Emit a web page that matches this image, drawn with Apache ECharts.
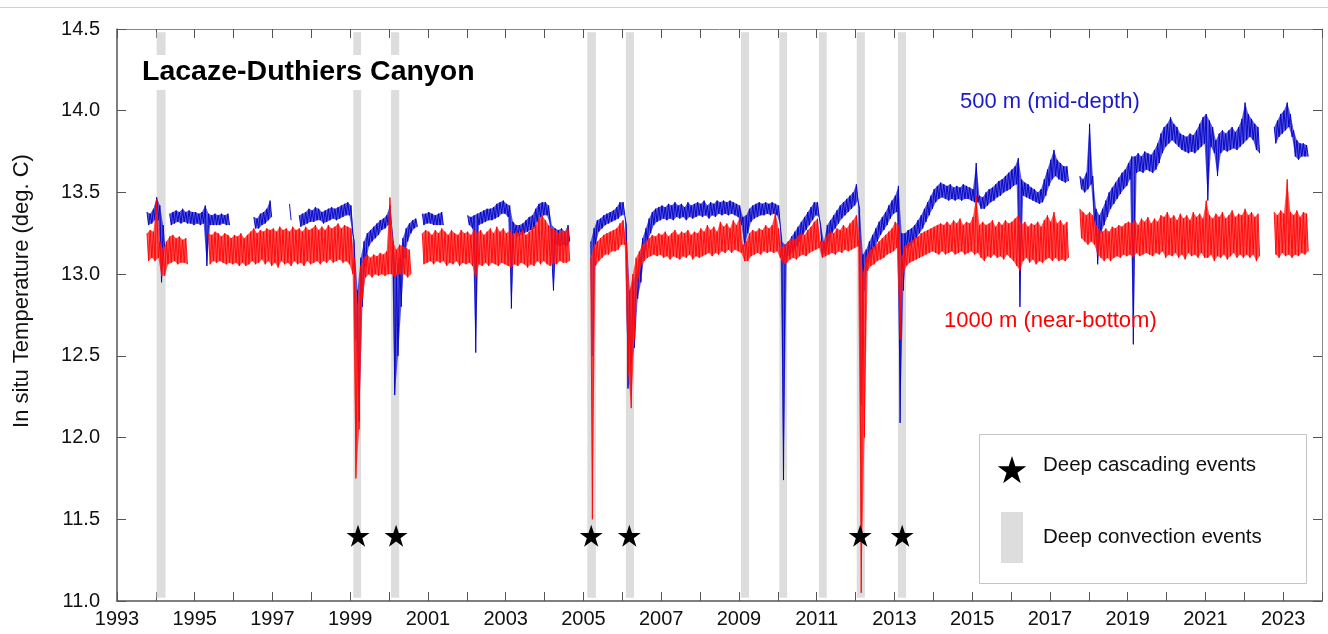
<!DOCTYPE html>
<html><head><meta charset="utf-8">
<script src="https://cdn.jsdelivr.net/npm/echarts@6/dist/echarts.min.js"></script>
<style>html,body{margin:0;padding:0;background:#fff}#c{width:1328px;height:634px}</style>
</head><body><div id="c"></div>
<script>
const N = null;
// monthly series start in October 1993 (month index 9, 0-based)
const startYear = 1993, startMonth = 9;

// 500 m (mid-depth): monthly upper / lower envelope
const blueHi = [
 13.38,13.37,13.40,
 13.47,13.42,13.30,N,13.37,13.38,13.39,13.38,13.40,13.38,13.39,13.38,
 13.38,13.37,13.38,13.42,13.37,13.36,13.37,13.36,13.37,13.36,13.37,N,
 N,N,N,N,N,N,13.35,13.34,13.37,13.38,13.40,13.45,
 N,N,N,N,N,13.43,N,N,13.36,13.37,13.38,13.40,
 13.39,13.41,13.40,13.38,13.39,13.40,13.41,13.40,13.41,13.42,13.43,13.44,
 13.42,13.20,12.90,13.10,13.20,13.25,13.27,13.29,13.31,13.33,13.34,13.36,
 13.42,13.20,13.00,13.10,13.22,13.28,13.31,13.33,13.34,N,13.37,13.37,
 13.38,13.37,13.36,13.37,13.38,N,N,N,N,N,N,N,
 13.36,13.35,13.36,13.37,13.38,13.39,13.40,13.40,13.41,13.43,13.44,13.45,
 13.43,13.42,13.32,13.30,13.30,13.31,13.33,13.35,13.36,13.40,13.43,13.44,
 13.44,13.42,13.30,13.28,13.27,13.28,13.26,13.30,N,N,N,N,
 N,N,13.20,13.28,13.33,13.34,13.36,13.37,13.38,13.39,13.41,13.44,
 13.44,13.30,12.90,12.95,13.00,13.10,13.22,13.28,13.34,13.38,13.40,13.41,
 13.42,13.41,13.43,13.42,13.44,13.42,13.43,13.41,13.44,13.42,13.43,13.44,
 13.43,13.45,13.42,13.44,13.43,13.45,13.44,13.45,13.44,13.45,13.44,13.43,
 13.42,13.35,13.36,13.40,13.42,13.43,13.44,13.43,13.44,13.43,13.44,13.43,
 13.42,13.20,13.18,13.20,13.23,13.26,13.29,13.32,13.35,13.38,13.41,13.44,
 13.44,13.30,13.20,13.30,13.33,13.36,13.39,13.42,13.44,13.46,13.48,13.50,
 13.55,13.40,13.12,13.15,13.20,13.24,13.28,13.32,13.35,13.38,13.42,13.45,
 13.48,13.54,13.25,13.25,13.27,13.28,13.30,13.33,13.36,13.40,13.44,13.48,
 13.52,13.54,13.56,13.55,13.54,13.55,13.53,13.54,13.53,13.55,13.54,13.53,
 13.52,13.68,13.48,13.47,13.50,13.52,13.53,13.55,13.57,13.58,13.60,13.62,
 13.64,13.66,13.71,13.58,13.56,13.55,13.53,13.52,13.50,13.52,13.58,13.64,
 13.70,13.76,13.70,13.68,13.66,13.66,N,N,N,13.60,13.58,13.62,
 13.92,13.60,13.40,13.36,13.40,13.45,13.50,13.53,13.56,13.59,13.62,13.64,
 13.68,13.72,13.72,13.74,13.72,13.75,13.74,13.73,13.76,13.80,13.86,13.90,
 13.92,13.96,13.92,13.90,13.86,13.85,13.84,13.86,13.85,13.88,13.92,13.96,
 13.98,13.94,13.90,13.82,13.86,13.88,13.86,13.88,13.90,13.87,13.90,13.95,
 14.05,13.98,13.95,13.92,13.90,N,N,N,N,13.90,13.94,13.98,
 14.00,14.05,13.98,13.88,13.82,13.80,13.80,13.79
];
const blueLo = [
 13.30,13.31,13.33,
 13.33,12.95,13.15,N,13.30,13.31,13.32,13.31,13.32,13.31,13.31,13.30,
 13.31,13.30,13.31,13.05,13.30,13.30,13.30,13.30,13.31,13.30,13.30,N,
 N,N,N,N,N,N,13.28,13.28,13.30,13.31,13.33,13.35,
 N,N,N,N,N,13.33,N,N,13.29,13.30,13.31,13.32,
 13.32,13.33,13.33,13.31,13.32,13.33,13.34,13.33,13.34,13.35,13.36,13.36,
 13.25,12.60,12.10,12.80,13.05,13.17,13.20,13.22,13.24,13.27,13.28,13.30,
 13.30,12.26,12.50,12.80,13.10,13.20,13.25,13.28,13.29,N,13.30,13.31,
 13.31,13.30,13.30,13.30,13.30,N,N,N,N,N,N,N,
 13.30,13.28,12.52,13.30,13.31,13.32,13.33,13.33,13.34,13.35,13.37,13.37,
 13.35,12.79,13.25,13.23,13.24,13.25,13.26,13.27,13.28,13.32,13.35,13.36,
 13.36,13.30,12.90,13.18,13.17,13.18,13.17,13.20,N,N,N,N,
 N,N,12.50,13.18,13.26,13.28,13.30,13.31,13.32,13.33,13.34,13.36,
 13.36,12.30,12.45,12.55,12.85,12.95,13.10,13.20,13.25,13.30,13.32,13.33,
 13.34,13.33,13.34,13.33,13.35,13.34,13.35,13.33,13.35,13.34,13.35,13.36,
 13.35,13.36,13.34,13.36,13.35,13.37,13.36,13.37,13.36,13.37,13.36,13.35,
 13.30,13.17,13.25,13.32,13.34,13.35,13.36,13.36,13.37,13.36,13.37,13.36,
 13.30,11.74,13.10,13.12,13.14,13.17,13.20,13.24,13.27,13.30,13.33,13.36,
 13.35,13.12,13.12,13.20,13.25,13.28,13.31,13.34,13.36,13.38,13.40,13.42,
 13.45,12.20,12.90,13.07,13.10,13.15,13.20,13.24,13.27,13.30,13.34,13.37,
 13.38,12.09,12.90,13.16,13.17,13.19,13.22,13.25,13.28,13.32,13.36,13.40,
 13.44,13.46,13.47,13.46,13.45,13.46,13.45,13.46,13.45,13.46,13.46,13.45,
 13.44,13.44,13.40,13.40,13.42,13.44,13.45,13.47,13.48,13.50,13.51,13.52,
 13.54,13.55,12.80,13.48,13.47,13.46,13.45,13.44,13.43,13.44,13.48,13.54,
 13.58,13.60,13.58,13.57,13.56,13.57,N,N,N,13.52,13.50,13.52,
 13.55,13.30,13.06,13.25,13.30,13.35,13.40,13.43,13.46,13.49,13.52,13.54,
 13.58,12.57,13.62,13.63,13.62,13.64,13.63,13.62,13.64,13.68,13.74,13.78,
 13.80,13.82,13.80,13.78,13.76,13.75,13.74,13.75,13.74,13.76,13.78,13.80,
 13.45,13.78,13.74,13.60,13.74,13.76,13.75,13.76,13.77,13.76,13.78,13.80,
 13.82,13.84,13.82,13.76,13.74,N,N,N,N,13.80,13.84,13.86,
 13.88,13.90,13.84,13.72,13.70,13.72,13.72,13.72
];

// 1000 m (near-bottom): monthly upper / lower envelope
const redHi = [
 13.25,13.27,13.26,
 13.46,13.20,13.15,13.20,13.23,13.24,13.22,13.23,13.21,13.22,N,N,
 N,N,N,N,13.25,13.24,13.26,13.25,13.23,13.25,13.24,13.22,
 13.24,13.23,13.25,13.22,13.24,13.26,13.28,13.25,13.27,13.26,13.28,13.27,
 13.28,13.26,13.29,13.27,13.28,13.26,13.29,13.27,13.28,13.26,13.29,13.27,
 13.28,13.30,13.27,13.29,13.27,13.30,13.28,13.29,13.31,13.28,13.30,13.29,
 13.28,13.10,12.80,13.05,13.10,13.12,13.10,13.12,13.11,13.13,13.12,13.14,
 13.47,13.20,13.15,13.18,13.17,13.16,13.15,N,N,N,13.25,13.27,
 13.26,13.24,13.27,13.25,13.28,13.26,13.24,13.27,13.25,13.24,13.27,13.25,
 13.26,13.24,13.27,13.25,13.27,13.24,13.26,13.28,13.25,13.29,13.26,13.28,
 13.25,13.27,13.24,13.26,13.25,13.27,13.24,13.26,13.28,13.30,13.34,13.36,
 13.33,13.30,13.28,13.27,13.25,13.27,13.26,13.28,N,N,N,N,
 N,N,13.10,13.17,13.20,13.22,13.24,13.25,13.26,13.27,13.28,13.31,
 13.33,13.20,12.90,13.00,13.10,13.14,13.18,13.20,13.22,13.24,13.23,13.25,
 13.24,13.26,13.23,13.25,13.27,13.24,13.26,13.25,13.27,13.24,13.26,13.25,
 13.28,13.26,13.30,13.27,13.29,13.26,13.32,13.29,13.31,13.28,13.33,13.30,
 13.35,13.18,13.20,13.25,13.27,13.26,13.28,13.27,13.30,13.28,13.30,13.38,
 13.28,13.16,13.18,13.20,13.22,13.21,13.23,13.25,13.24,13.27,13.29,13.32,
 13.34,13.20,13.20,13.24,13.26,13.25,13.28,13.27,13.30,13.28,13.31,13.33,
 13.36,13.25,13.00,13.10,13.14,13.16,13.18,13.20,13.22,13.24,13.26,13.28,
 13.32,13.30,13.10,13.17,13.19,13.20,13.22,13.23,13.25,13.26,13.27,13.28,
 13.29,13.30,13.31,13.30,13.32,13.30,13.33,13.31,13.34,13.30,13.32,13.31,
 13.35,13.48,13.30,13.32,13.30,13.31,13.33,13.29,13.32,13.30,13.33,13.31,
 13.32,13.34,13.36,13.30,13.32,13.29,13.31,13.30,13.32,13.29,13.33,13.36,
 13.32,13.38,13.31,13.33,13.30,13.32,N,N,N,13.40,13.38,13.36,
 13.38,13.36,13.30,13.27,13.26,13.28,13.26,13.29,13.28,13.30,13.29,13.31,
 13.32,13.31,13.33,13.30,13.34,13.32,13.35,13.31,13.34,13.32,13.36,13.35,
 13.38,13.34,13.36,13.33,13.37,13.34,13.36,13.33,13.38,13.35,13.37,13.34,
 13.45,13.36,13.34,13.37,13.35,13.38,13.34,13.36,13.39,13.35,13.37,13.36,
 13.40,13.36,13.38,13.35,13.37,N,N,N,N,13.38,13.36,13.39,
 13.37,13.58,13.38,13.36,13.39,13.35,13.38,13.37
];
const redLo = [
 13.08,13.10,13.08,
 13.10,12.99,12.99,13.06,13.07,13.08,13.06,13.07,13.07,13.06,N,N,
 N,N,N,N,13.06,13.08,13.07,13.08,13.07,13.06,13.07,13.06,
 13.07,13.05,13.07,13.05,13.06,13.08,13.06,13.07,13.09,13.06,13.08,13.05,
 13.07,13.04,13.08,13.06,13.07,13.05,13.08,13.06,13.07,13.05,13.08,13.06,
 13.07,13.08,13.06,13.08,13.07,13.09,13.07,13.08,13.09,13.07,13.08,13.06,
 13.00,11.75,12.05,12.85,12.98,13.00,12.98,13.00,12.99,13.00,12.99,13.00,
 13.00,12.98,13.00,13.00,13.00,12.98,13.00,N,N,N,13.06,13.07,
 13.08,13.06,13.08,13.07,13.08,13.05,13.07,13.06,13.08,13.05,13.07,13.06,
 13.07,13.05,12.97,13.06,13.05,13.07,13.05,13.07,13.06,13.05,13.07,13.06,
 13.05,13.04,13.06,13.05,13.07,13.06,13.04,13.06,13.05,13.08,13.06,13.08,
 13.06,13.05,13.07,13.06,13.08,13.07,13.07,13.08,N,N,N,N,
 N,N,11.50,13.05,13.08,13.10,13.12,13.12,13.14,13.14,13.15,13.18,
 13.18,12.40,12.18,12.60,12.95,13.05,13.08,13.10,13.11,13.12,13.11,13.12,
 13.10,13.11,13.09,13.11,13.10,13.09,13.11,13.10,13.12,13.09,13.11,13.10,
 13.11,13.12,13.13,13.11,13.13,13.12,13.14,13.13,13.15,13.13,13.15,13.14,
 13.13,13.08,13.08,13.11,13.12,13.13,13.12,13.14,13.13,13.14,13.13,13.14,
 13.10,13.06,13.07,13.09,13.10,13.09,13.11,13.12,13.11,13.13,13.14,13.15,
 13.16,13.10,13.11,13.12,13.13,13.12,13.14,13.13,13.15,13.14,13.15,13.16,
 13.17,11.05,12.00,13.02,13.05,13.06,13.08,13.09,13.10,13.12,13.13,13.14,
 13.16,12.60,13.00,13.05,13.07,13.08,13.09,13.10,13.11,13.12,13.13,13.14,
 13.13,13.12,13.14,13.12,13.13,13.14,13.12,13.13,13.14,13.12,13.13,13.14,
 13.12,13.13,13.10,13.08,13.11,13.10,13.12,13.10,13.11,13.09,13.12,13.10,
 13.08,13.05,13.02,13.08,13.10,13.07,13.09,13.06,13.08,13.07,13.09,13.10,
 13.08,13.10,13.08,13.09,13.08,13.10,N,N,N,13.22,13.20,13.18,
 13.20,13.18,13.12,13.10,13.08,13.10,13.08,13.10,13.11,13.10,13.12,13.11,
 13.12,13.10,13.13,13.11,13.12,13.13,13.12,13.11,13.13,13.12,13.14,13.10,
 13.12,13.11,13.13,13.10,13.12,13.09,13.13,13.11,13.12,13.10,13.13,13.10,
 13.10,13.12,13.08,13.11,13.10,13.12,13.09,13.11,13.13,13.10,13.12,13.10,
 13.12,13.10,13.12,13.08,13.11,N,N,N,N,13.12,13.10,13.13,
 13.11,13.12,13.10,13.12,13.11,13.13,13.12,13.14
];

// deep convection events (grey bands): [start, end] in decimal years
const convectionEvents = [
 [1994.02,1994.25],[1999.08,1999.28],[2000.05,2000.26],[2005.10,2005.32],[2006.09,2006.30],
 [2009.05,2009.26],[2010.04,2010.24],[2011.06,2011.26],[2012.03,2012.24],[2013.09,2013.30]
];
// deep cascading events (stars)
const cascadeYears = [1999.20, 2000.18, 2005.20, 2006.18, 2012.12, 2013.20];
const cascadeLevel = 11.4;

const xTickLabels = ['1993','1995','1997','1999','2001','2003','2005','2007','2009','2011','2013','2015','2017','2019','2021','2023'];
const yTickLabels = ['11.0','11.5','12.0','12.5','13.0','13.5','14.0','14.5'];

const STAR = 'path://M50,0L61.2,34.5L97.6,34.5L68.2,55.9L79.4,90.5L50,69.1L20.6,90.5L31.8,55.9L2.4,34.5L38.8,34.5Z';
const FONT = '"Liberation Sans", Arial, Helvetica, sans-serif';

const tHi = i => startYear + (startMonth + i) / 12 + 0.25 / 12;
const tLo = i => startYear + (startMonth + i) / 12 + 0.75 / 12;

function envelope(hi, lo) {
  const pts = [];
  for (let i = 0; i < hi.length; i++) {
    pts.push([tHi(i), hi[i] == null ? '-' : hi[i]]);
    pts.push([tLo(i), lo[i] == null ? '-' : lo[i]]);
  }
  return pts;
}
// contiguous runs of months with data -> [tStart, tEnd, iStart, iEnd]
function runs(hi) {
  const out = [];
  let s = -1;
  for (let i = 0; i <= hi.length; i++) {
    const ok = i < hi.length && hi[i] != null;
    if (ok && s < 0) s = i;
    if (!ok && s >= 0) { out.push([tHi(s), tLo(i - 1), s, i - 1]); s = -1; }
  }
  return out;
}
function bandSeries(name, hi, lo, color, opacity, z) {
  return {
    name: name, type: 'custom', z: z, silent: true, clip: true,
    data: runs(hi), encode: {x: [0, 1]},
    renderItem: (params, api) => {
      const s = api.value(2), e = api.value(3);
      const pts = [];
      for (let i = s; i <= e; i++) pts.push(api.coord([tHi(i), hi[i]]));
      for (let i = e; i >= s; i--) pts.push(api.coord([tLo(i), lo[i]]));
      return {type: 'polygon', shape: {points: pts}, style: {fill: color, opacity: opacity}};
    }
  };
}
function starPoints(cx, cy, r) {
  const pts = [];
  for (let k = 0; k < 10; k++) {
    const rr = k % 2 === 0 ? r : r * 0.382;
    const a = -Math.PI / 2 + k * Math.PI / 5;
    pts.push([cx + rr * Math.cos(a), cy + rr * Math.sin(a)]);
  }
  return pts;
}

const chart = echarts.init(document.getElementById('c'), null, {renderer: 'canvas'});
const axisCol = '#555';
const baseX = {
  type: 'value', min: 1993, max: 2024, interval: 1,
  splitLine: {show: false},
  axisTick: {inside: true, length: 9, lineStyle: {color: axisCol, width: 1}},
};
const baseY = {
  type: 'value', min: 11, max: 14.5, interval: 0.5,
  splitLine: {show: false},
  axisTick: {inside: true, length: 9, lineStyle: {color: axisCol, width: 1}},
};
chart.setOption({
  animation: false,
  backgroundColor: '#fff',
  textStyle: {fontFamily: FONT},
  title: {
    text: 'Lacaze-Duthiers Canyon', left: 135, top: 55, padding: [3, 7, 3, 7],
    backgroundColor: '#fff',
    textStyle: {fontFamily: FONT, fontSize: 28.5, fontWeight: 'bold', color: '#000'}
  },
  grid: {left: 117, top: 29, right: 6, bottom: 33, containLabel: false},
  xAxis: [
    Object.assign({}, baseX, {
      position: 'bottom',
      axisLine: {lineStyle: {color: axisCol, width: 1.5}},
      axisLabel: {
        margin: 8, fontSize: 20, color: '#111', fontFamily: FONT,
        formatter: v => { const s = String(Math.round(v)); return xTickLabels.includes(s) ? s : ''; }
      }
    }),
    Object.assign({}, baseX, {
      position: 'top',
      axisLine: {lineStyle: {color: '#888', width: 1}},
      axisLabel: {show: false}
    })
  ],
  yAxis: [
    Object.assign({}, baseY, {
      position: 'left',
      axisLine: {lineStyle: {color: axisCol, width: 1.5}},
      axisLabel: {
        margin: 17, fontSize: 20, color: '#111', fontFamily: FONT,
        formatter: v => yTickLabels[Math.round((v - 11) / 0.5)]
      }
    }),
    Object.assign({}, baseY, {
      position: 'right',
      axisLine: {lineStyle: {color: '#888', width: 1}},
      axisLabel: {show: false}
    })
  ],
  series: [
    {
      name: 'Deep convection events', type: 'custom', z: 1, silent: true,
      data: convectionEvents, encode: {x: [0, 1]},
      renderItem: (params, api) => {
        const p1 = api.coord([api.value(0), 14.48]);
        const p2 = api.coord([api.value(1), 11.02]);
        return {type: 'rect', shape: {x: p1[0], y: p1[1], width: p2[0] - p1[0], height: p2[1] - p1[1]},
                style: {fill: '#dcdddc'}};
      }
    },
    bandSeries('500 m band', blueHi, blueLo, '#2020d8', 0.75, 2),
    {
      name: '500 m (mid-depth)', type: 'line', z: 3, silent: true, showSymbol: false,
      data: envelope(blueHi, blueLo), connectNulls: false,
      lineStyle: {color: '#0000c0', width: 1, opacity: 0.9}
    },
    bandSeries('1000 m band', redHi, redLo, '#ff2a2a', 0.8, 4),
    {
      name: '1000 m (near-bottom)', type: 'line', z: 5, silent: true, showSymbol: false,
      data: envelope(redHi, redLo), connectNulls: false,
      lineStyle: {color: '#ff0000', width: 1, opacity: 0.85}
    },
    {
      name: 'Deep cascading events', type: 'scatter', z: 6, silent: true,
      symbol: STAR, symbolSize: [23, 22],
      itemStyle: {color: '#000', opacity: 1},
      data: cascadeYears.map(y => [y, cascadeLevel])
    }
  ],
  graphic: [
    {type: 'line', z: 100, shape: {x1: 0, y1: 7.5, x2: 1328, y2: 7.5}, style: {stroke: '#cfcfcf', lineWidth: 1}},
    {type: 'text', z: 100, x: 22, y: 291, rotation: Math.PI / 2,
     style: {text: 'In situ Temperature (deg. C)', fill: '#111', font: '22px ' + FONT, textAlign: 'center', textVerticalAlign: 'middle'}},
    {type: 'text', z: 100, x: 960, y: 91, style: {text: '500 m (mid-depth)', fill: '#1a1acc', font: '22px ' + FONT}},
    {type: 'text', z: 100, x: 944, y: 310, style: {text: '1000 m (near-bottom)', fill: '#ff0000', font: '22px ' + FONT}},
    {type: 'rect', z: 100, shape: {x: 979.5, y: 434.5, width: 327, height: 149}, style: {fill: '#fff', stroke: '#c4c4c4', lineWidth: 1}},
    {type: 'polygon', z: 101, shape: {points: starPoints(1012, 471, 15)}, style: {fill: '#000'}},
    {type: 'text', z: 101, x: 1043, y: 455, style: {text: 'Deep cascading events', fill: '#111', font: '20.5px ' + FONT}},
    {type: 'rect', z: 101, shape: {x: 1001, y: 512, width: 22, height: 51}, style: {fill: '#dcdddc'}},
    {type: 'text', z: 101, x: 1043, y: 527, style: {text: 'Deep convection events', fill: '#111', font: '20.5px ' + FONT}}
  ]
});
</script>
</body></html>
